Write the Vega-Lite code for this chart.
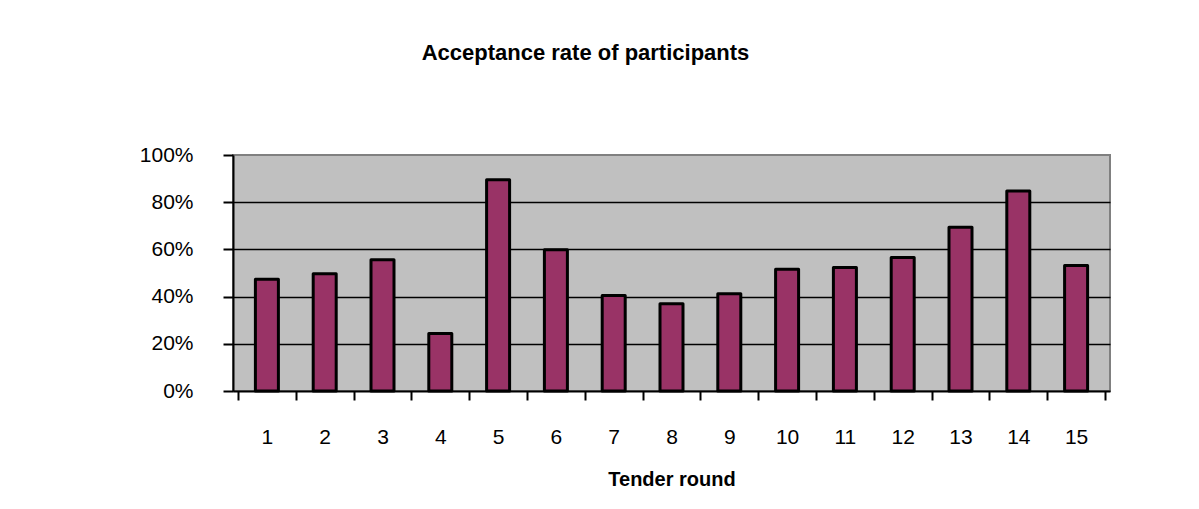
{
  "$schema": "https://vega.github.io/schema/vega-lite/v6.json",
  "autosize": {"type": "none"},
  "width": 877,
  "height": 236,
  "padding": {"left": 233, "top": 155, "right": 89, "bottom": 118},
  "background": "white",
  "title": {
    "text": "Acceptance rate of participants",
    "font": "Liberation Sans",
    "fontSize": 22,
    "fontWeight": "bold",
    "color": "black",
    "anchor": "middle",
    "baseline": "alphabetic",
    "offset": 62,
    "dx": -86
  },
  "data": {
    "values": [
      {"round": 1, "rate": 0.473},
      {"round": 2, "rate": 0.497},
      {"round": 3, "rate": 0.556},
      {"round": 4, "rate": 0.244},
      {"round": 5, "rate": 0.895},
      {"round": 6, "rate": 0.598},
      {"round": 7, "rate": 0.405},
      {"round": 8, "rate": 0.37},
      {"round": 9, "rate": 0.412},
      {"round": 10, "rate": 0.516},
      {"round": 11, "rate": 0.523},
      {"round": 12, "rate": 0.566},
      {"round": 13, "rate": 0.694},
      {"round": 14, "rate": 0.847},
      {"round": 15, "rate": 0.532}
    ]
  },
  "mark": {
    "type": "bar",
    "width": 23,
    "fill": "#993366",
    "stroke": "black",
    "strokeWidth": 3,
    "strokeJoin": "round"
  },
  "encoding": {
    "x": {
      "field": "round",
      "type": "quantitative",
      "scale": {"domain": [0.5, 15.5], "nice": false, "zero": false},
      "axis": {
        "values": [0.5, 1, 1.5, 2, 2.5, 3, 3.5, 4, 4.5, 5, 5.5, 6, 6.5, 7, 7.5, 8, 8.5, 9, 9.5, 10, 10.5, 11, 11.5, 12, 12.5, 13, 13.5, 14, 14.5, 15, 15.5],
        "labelExpr": "datum.value % 1 === 0 ? format(datum.value, 'd') : ''",
        "tickOpacity": {"condition": {"test": "datum.value % 1 === 0", "value": 0}, "value": 1},
        "grid": false,
        "title": "Tender round",
        "titleFont": "Liberation Sans",
        "titleFontSize": 20,
        "titleFontWeight": "bold",
        "titleColor": "black",
        "titlePadding": 22,
        "labelFont": "Liberation Sans",
        "labelFontSize": 21,
        "labelColor": "black",
        "labelPadding": 26,
        "labelFlush": false,
        "labelOverlap": false,
        "tickSize": 9,
        "tickWidth": 2,
        "tickColor": "black",
        "domainColor": "black",
        "domainWidth": 2
      }
    },
    "y": {
      "field": "rate",
      "type": "quantitative",
      "scale": {"domain": [0, 1], "nice": false},
      "axis": {
        "values": [0, 0.2, 0.4, 0.6, 0.8, 1],
        "format": ".0%",
        "title": null,
        "grid": true,
        "gridColor": "black",
        "gridWidth": 1.5,
        "gridOpacity": {"condition": {"test": "datum.value >= 1 || datum.value <= 0", "value": 0}, "value": 1},
        "labelFont": "Liberation Sans",
        "labelFontSize": 21,
        "labelColor": "black",
        "labelPadding": 30,
        "labelFlush": false,
        "tickSize": 10,
        "tickWidth": 2,
        "tickColor": "black",
        "domainColor": "black",
        "domainWidth": 2
      }
    }
  },
  "config": {
    "view": {"fill": "#C0C0C0", "stroke": "#808080", "strokeWidth": 2}
  }
}
